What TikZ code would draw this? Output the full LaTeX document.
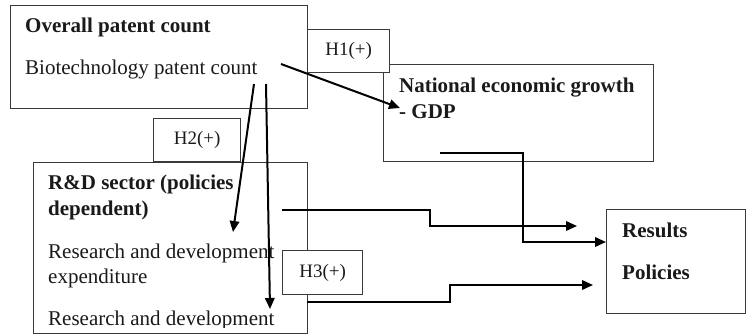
\documentclass[tikz,border=0pt]{standalone}
\usepackage{fontspec}
\setmainfont{Liberation Serif}
\usetikzlibrary{arrows.meta}
\definecolor{boxgray}{HTML}{3A3A3A}
\definecolor{inkc}{HTML}{1A1A1A}
\begin{document}
\begin{tikzpicture}[x=1pt,y=-1pt,
  box/.style={draw=boxgray, line width=1.4pt, inner sep=0pt, anchor=north west},
  hbox/.style={box, fill=white, text=inkc, font=\fontsize{19}{23}\selectfont},
  txt/.style={inner sep=0pt, anchor=base west, text=inkc, font=\fontsize{21}{26}\selectfont},
  conn/.style={draw=black, line width=2pt, -{Triangle[length=11pt,width=9.5pt]}}]
\useasboundingbox (0,0) rectangle (746,335);
\fill[white] (0,0) rectangle (746,335);
% main boxes
\node[box, minimum width=297pt, minimum height=103pt] (A) at (10,5) {};
\node[box, minimum width=270pt, minimum height=97pt] (B) at (383,64) {};
\node[box, minimum width=274pt, minimum height=171pt] (C) at (33,162) {};
\node[box, minimum width=139pt, minimum height=104pt] (D) at (606,209) {};
% hypothesis boxes
\node[hbox, minimum width=82pt, minimum height=43pt] (H1) at (307,29) {H1(+)};
\node[hbox, minimum width=87pt, minimum height=43pt] (H2) at (153,118) {H2(+)};
\node[hbox, minimum width=80pt, minimum height=44pt] (H3) at (282,250) {H3(+)};
% texts
\node[txt] (t1) at (25,32) {\bfseries Overall patent count};
\node[txt] (t2) at (25,74) {Biotechnology patent count};
\node[txt] (t3) at (399,92) {\bfseries National economic growth};
\node[txt] (t4) at (399,118) {\bfseries - GDP};
\node[txt] (t5) at (48,189) {\bfseries R\&D sector (policies};
\node[txt] (t6) at (48,215) {\bfseries dependent)};
\node[txt] (t7) at (48,258) {Research and development};
\node[txt] (t8) at (48,283) {expenditure};
\begin{scope}
\clip (33,162) rectangle (307,327);
\node[txt] (t9) at (48,325) {Research and development};
\end{scope}
\node[txt] (t10) at (622,237) {\bfseries Results};
\node[txt] (t11) at (622,279) {\bfseries Policies};
% connector ends
\coordinate (s1) at (281,64);
\coordinate (e1) at (400,108);
\coordinate (s2) at (254,84);
\coordinate (e2) at (233,232);
\coordinate (s3) at (266,84);
\coordinate (e3) at (270,309);
\coordinate (s4) at (440,153);
\coordinate (k4) at (523,200);
\coordinate (e4) at (606,242);
\coordinate (s5) at (282,210);
\coordinate (k5) at (430,218);
\coordinate (e5) at (577,226);
\coordinate (s6) at (307,302);
\coordinate (k6) at (450,293);
\coordinate (e6) at (593,285);
% connectors
\draw[conn] (s1) -- (e1);
\draw[conn] (s2) -- (e2);
\draw[conn] (s3) -- (e3);
\draw[conn] (s4) -| (k4) |- (e4);
\draw[conn] (s5) -| (k5) |- (e5);
\draw[conn] (s6) -| (k6) |- (e6);
\end{tikzpicture}
\end{document}
